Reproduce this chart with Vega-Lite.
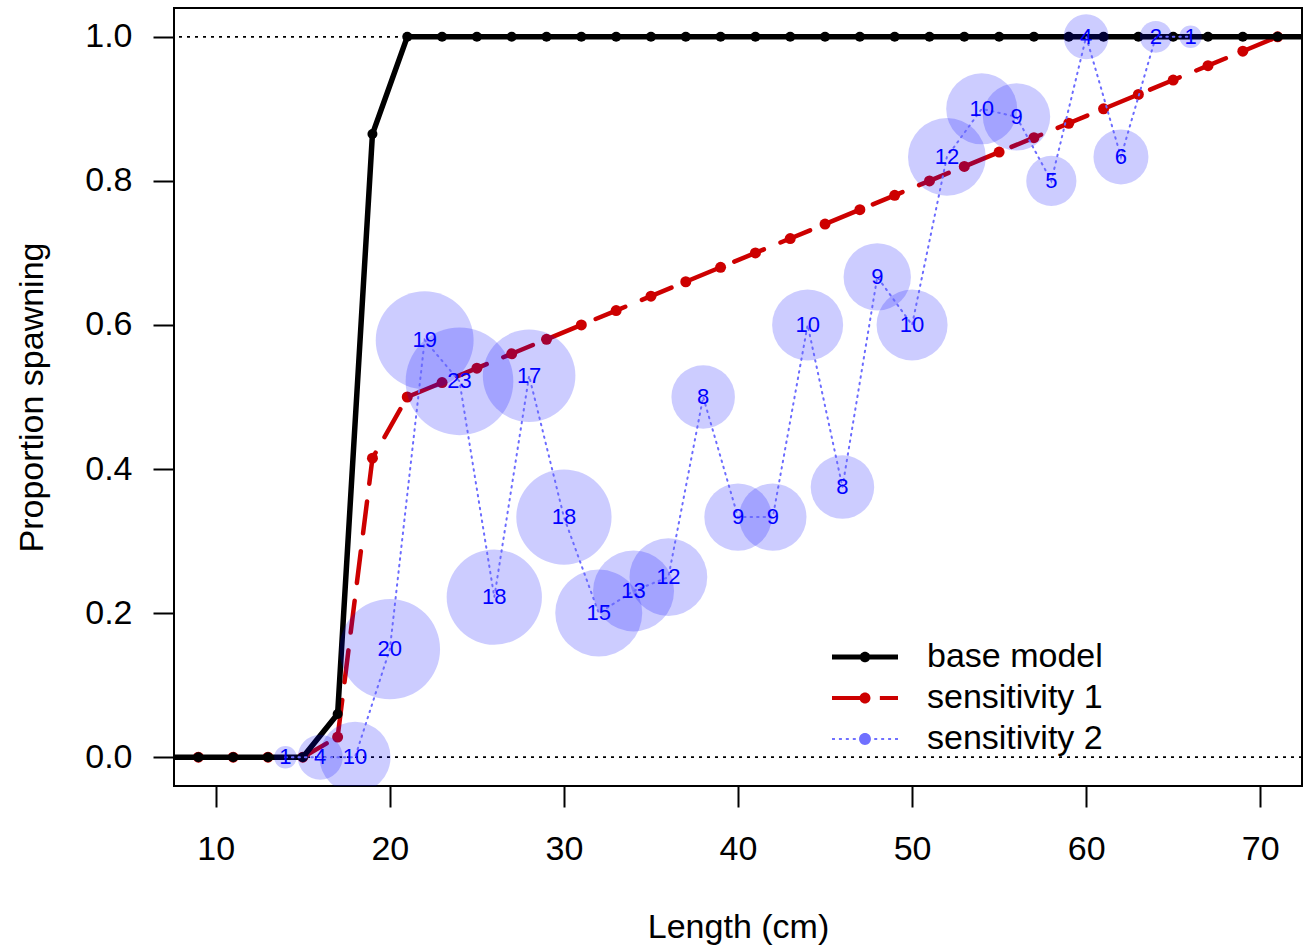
{
  "$schema": "https://vega.github.io/schema/vega-lite/v6.json",
  "width": 1128,
  "height": 778,
  "autosize": {"type": "none"},
  "padding": {"left": 174, "top": 8, "right": 12, "bottom": 164},
  "background": "white",
  "config": {
    "font": "Liberation Sans",
    "view": {"stroke": "black", "strokeWidth": 2},
    "axis": {
      "domain": false, "grid": false, "ticks": true, "tickSize": 21, "tickWidth": 2, "tickColor": "black",
      "labelFontSize": 34, "labelColor": "black", "titleFontSize": 34, "titleFontWeight": "normal",
      "titleColor": "black", "labelFlush": false, "labelOverlap": false, "labelBound": false
    }
  },
  "data": {
    "values": [
      {"s": "base model", "len": 7, "p": 0},
      {"s": "base model", "len": 9, "p": 0},
      {"s": "base model", "len": 11, "p": 0},
      {"s": "base model", "len": 13, "p": 0},
      {"s": "base model", "len": 15, "p": 0},
      {"s": "base model", "len": 17, "p": 0.06},
      {"s": "base model", "len": 19, "p": 0.865},
      {"s": "base model", "len": 21, "p": 1},
      {"s": "base model", "len": 23, "p": 1},
      {"s": "base model", "len": 25, "p": 1},
      {"s": "base model", "len": 27, "p": 1},
      {"s": "base model", "len": 29, "p": 1},
      {"s": "base model", "len": 31, "p": 1},
      {"s": "base model", "len": 33, "p": 1},
      {"s": "base model", "len": 35, "p": 1},
      {"s": "base model", "len": 37, "p": 1},
      {"s": "base model", "len": 39, "p": 1},
      {"s": "base model", "len": 41, "p": 1},
      {"s": "base model", "len": 43, "p": 1},
      {"s": "base model", "len": 45, "p": 1},
      {"s": "base model", "len": 47, "p": 1},
      {"s": "base model", "len": 49, "p": 1},
      {"s": "base model", "len": 51, "p": 1},
      {"s": "base model", "len": 53, "p": 1},
      {"s": "base model", "len": 55, "p": 1},
      {"s": "base model", "len": 57, "p": 1},
      {"s": "base model", "len": 59, "p": 1},
      {"s": "base model", "len": 61, "p": 1},
      {"s": "base model", "len": 63, "p": 1},
      {"s": "base model", "len": 65, "p": 1},
      {"s": "base model", "len": 67, "p": 1},
      {"s": "base model", "len": 69, "p": 1},
      {"s": "base model", "len": 71, "p": 1},
      {"s": "base model", "len": 73, "p": 1},
      {"s": "sensitivity 1", "len": 9, "p": 0},
      {"s": "sensitivity 1", "len": 11, "p": 0},
      {"s": "sensitivity 1", "len": 13, "p": 0},
      {"s": "sensitivity 1", "len": 15, "p": 0},
      {"s": "sensitivity 1", "len": 17, "p": 0.028},
      {"s": "sensitivity 1", "len": 19, "p": 0.415},
      {"s": "sensitivity 1", "len": 21, "p": 0.5},
      {"s": "sensitivity 1", "len": 23, "p": 0.52},
      {"s": "sensitivity 1", "len": 25, "p": 0.54},
      {"s": "sensitivity 1", "len": 27, "p": 0.56},
      {"s": "sensitivity 1", "len": 29, "p": 0.58},
      {"s": "sensitivity 1", "len": 31, "p": 0.6},
      {"s": "sensitivity 1", "len": 33, "p": 0.62},
      {"s": "sensitivity 1", "len": 35, "p": 0.64},
      {"s": "sensitivity 1", "len": 37, "p": 0.66},
      {"s": "sensitivity 1", "len": 39, "p": 0.68},
      {"s": "sensitivity 1", "len": 41, "p": 0.7},
      {"s": "sensitivity 1", "len": 43, "p": 0.72},
      {"s": "sensitivity 1", "len": 45, "p": 0.74},
      {"s": "sensitivity 1", "len": 47, "p": 0.76},
      {"s": "sensitivity 1", "len": 49, "p": 0.78},
      {"s": "sensitivity 1", "len": 51, "p": 0.8},
      {"s": "sensitivity 1", "len": 53, "p": 0.82},
      {"s": "sensitivity 1", "len": 55, "p": 0.84},
      {"s": "sensitivity 1", "len": 57, "p": 0.86},
      {"s": "sensitivity 1", "len": 59, "p": 0.88},
      {"s": "sensitivity 1", "len": 61, "p": 0.9},
      {"s": "sensitivity 1", "len": 63, "p": 0.92},
      {"s": "sensitivity 1", "len": 65, "p": 0.94},
      {"s": "sensitivity 1", "len": 67, "p": 0.96},
      {"s": "sensitivity 1", "len": 69, "p": 0.98},
      {"s": "sensitivity 1", "len": 71, "p": 1},
      {"s": "sensitivity 2", "len": 14, "p": 0, "n": 1},
      {"s": "sensitivity 2", "len": 16, "p": 0, "n": 4},
      {"s": "sensitivity 2", "len": 18, "p": 0, "n": 10},
      {"s": "sensitivity 2", "len": 20, "p": 0.15, "n": 20},
      {"s": "sensitivity 2", "len": 22, "p": 0.5789, "n": 19},
      {"s": "sensitivity 2", "len": 24, "p": 0.5217, "n": 23},
      {"s": "sensitivity 2", "len": 26, "p": 0.2222, "n": 18},
      {"s": "sensitivity 2", "len": 28, "p": 0.5294, "n": 17},
      {"s": "sensitivity 2", "len": 30, "p": 0.3333, "n": 18},
      {"s": "sensitivity 2", "len": 32, "p": 0.2, "n": 15},
      {"s": "sensitivity 2", "len": 34, "p": 0.2308, "n": 13},
      {"s": "sensitivity 2", "len": 36, "p": 0.25, "n": 12},
      {"s": "sensitivity 2", "len": 38, "p": 0.5, "n": 8},
      {"s": "sensitivity 2", "len": 40, "p": 0.3333, "n": 9},
      {"s": "sensitivity 2", "len": 42, "p": 0.3333, "n": 9},
      {"s": "sensitivity 2", "len": 44, "p": 0.6, "n": 10},
      {"s": "sensitivity 2", "len": 46, "p": 0.375, "n": 8},
      {"s": "sensitivity 2", "len": 48, "p": 0.6667, "n": 9},
      {"s": "sensitivity 2", "len": 50, "p": 0.6, "n": 10},
      {"s": "sensitivity 2", "len": 52, "p": 0.8333, "n": 12},
      {"s": "sensitivity 2", "len": 54, "p": 0.9, "n": 10},
      {"s": "sensitivity 2", "len": 56, "p": 0.8889, "n": 9},
      {"s": "sensitivity 2", "len": 58, "p": 0.8, "n": 5},
      {"s": "sensitivity 2", "len": 60, "p": 1, "n": 4},
      {"s": "sensitivity 2", "len": 62, "p": 0.8333, "n": 6},
      {"s": "sensitivity 2", "len": 64, "p": 1, "n": 2},
      {"s": "sensitivity 2", "len": 66, "p": 1, "n": 1}
    ]
  },
  "layer": [
    {
      "data": {"values": [{"p": 0}, {"p": 1}]},
      "mark": {"type": "rule", "strokeDash": [3, 5], "strokeWidth": 1.8, "color": "black"},
      "encoding": {
        "y": {"field": "p", "type": "quantitative", "scale": {"domain": [-0.04, 1.04], "nice": false, "zero": false},
              "axis": {"values": [0, 0.2, 0.4, 0.6, 0.8, 1], "format": ".1f", "title": "Proportion spawning", "labelPadding": 21, "titlePadding": 35}}
      }
    },
    {
      "transform": [{"filter": "datum.s === 'sensitivity 1'"}],
      "mark": {"type": "line", "strokeWidth": 4.5, "strokeDash": [32, 18], "clip": true, "strokeJoin": "round", "strokeCap": "round"},
      "encoding": {
        "x": {"field": "len", "type": "quantitative", "scale": {"domain": [7.6, 72.4], "nice": false, "zero": false},
              "axis": {"values": [10, 20, 30, 40, 50, 60, 70], "title": "Length (cm)", "labelPadding": 25, "titlePadding": 44}},
        "y": {"field": "p", "type": "quantitative", "scale": {"domain": [-0.04, 1.04], "nice": false, "zero": false},
              "axis": {"values": [0, 0.2, 0.4, 0.6, 0.8, 1], "format": ".1f", "title": "Proportion spawning", "labelPadding": 21, "titlePadding": 35}},
        "color": {
          "field": "s", "type": "nominal",
          "scale": {"domain": ["base model", "sensitivity 1", "sensitivity 2"], "range": ["black", "#CD0000", "#6B6BFF"]},
          "legend": {
            "title": null, "orient": "none", "legendX": 674, "legendY": 632, "padding": 0,
            "labelFontSize": 34, "labelFont": "Liberation Sans", "labelColor": "black", "labelLimit": 500,
            "labelOffset": 45, "rowPadding": 7, "symbolSize": 1089,
            "encode": {
              "symbols": {
                "update": {
                  "shape": {"signal": "datum.value === 'base model' ? 'M-2,-0.152L2,-0.152L2,0.152L-2,0.152Z M0.32,0A0.32,0.32,0,1,1,-0.32,0A0.32,0.32,0,1,1,0.32,0Z' : datum.value === 'sensitivity 1' ? 'M-2,-0.12L0.06,-0.12L0.06,0.12L-2,0.12Z M0.9,-0.12L2,-0.12L2,0.12L0.9,0.12Z M0.333,0A0.333,0.333,0,1,1,-0.333,0A0.333,0.333,0,1,1,0.333,0Z' : 'M-2,-0.06L-1.82,-0.06L-1.82,0.06L-2,0.06Z M-1.58,-0.06L-1.4,-0.06L-1.4,0.06L-1.58,0.06Z M-1.16,-0.06L-0.98,-0.06L-0.98,0.06L-1.16,0.06Z M-0.74,-0.06L-0.56,-0.06L-0.56,0.06L-0.74,0.06Z M0.56,-0.06L0.74,-0.06L0.74,0.06L0.56,0.06Z M0.98,-0.06L1.16,-0.06L1.16,0.06L0.98,0.06Z M1.4,-0.06L1.58,-0.06L1.58,0.06L1.4,0.06Z M1.82,-0.06L2,-0.06L2,0.06L1.82,0.06Z M0.36,0A0.36,0.36,0,1,1,-0.36,0A0.36,0.36,0,1,1,0.36,0Z'"},
                  "fill": {"signal": "datum.value === 'base model' ? 'black' : datum.value === 'sensitivity 1' ? '#CD0000' : '#7070FF'"},
                  "stroke": {"value": "transparent"},
                  "strokeWidth": {"value": 0},
                  "size": {"value": 1089},
                  "opacity": {"value": 1},
                  "fillOpacity": {"value": 1}
                }
              }
            }
          }
        }
      }
    },
    {
      "transform": [{"filter": "datum.s === 'sensitivity 1'"}],
      "mark": {"type": "circle", "size": 121, "opacity": 1, "color": "#CD0000", "clip": true},
      "encoding": {
        "x": {"field": "len", "type": "quantitative"},
        "y": {"field": "p", "type": "quantitative"}
      }
    },
    {
      "transform": [{"filter": "datum.s === 'base model'"}],
      "mark": {"type": "line", "strokeWidth": 5.5, "clip": true, "strokeJoin": "round", "strokeCap": "round"},
      "encoding": {
        "x": {"field": "len", "type": "quantitative"},
        "y": {"field": "p", "type": "quantitative"},
        "color": {"field": "s", "type": "nominal", "scale": {"domain": ["base model", "sensitivity 1", "sensitivity 2"], "range": ["black", "#CD0000", "#6B6BFF"]}, "legend": null}
      }
    },
    {
      "transform": [{"filter": "datum.s === 'base model'"}],
      "mark": {"type": "circle", "size": 100, "opacity": 1, "color": "black", "clip": true},
      "encoding": {
        "x": {"field": "len", "type": "quantitative"},
        "y": {"field": "p", "type": "quantitative"}
      }
    },
    {
      "transform": [{"filter": "datum.s === 'sensitivity 2'"}],
      "mark": {"type": "circle", "color": "#0000FF", "opacity": 0.2, "clip": true},
      "encoding": {
        "x": {"field": "len", "type": "quantitative"},
        "y": {"field": "p", "type": "quantitative"},
        "size": {"field": "n", "type": "quantitative", "scale": {"domain": [0, 23], "range": [0, 11600]}, "legend": null}
      }
    },
    {
      "transform": [{"filter": "datum.s === 'sensitivity 2'"}],
      "mark": {"type": "line", "strokeWidth": 2, "strokeDash": [1.5, 5], "strokeCap": "round", "clip": true},
      "encoding": {
        "x": {"field": "len", "type": "quantitative"},
        "y": {"field": "p", "type": "quantitative"},
        "color": {"field": "s", "type": "nominal", "scale": {"domain": ["base model", "sensitivity 1", "sensitivity 2"], "range": ["black", "#CD0000", "#6B6BFF"]}, "legend": null}
      }
    },
    {
      "transform": [{"filter": "datum.s === 'sensitivity 2'"}],
      "mark": {"type": "text", "fontSize": 22, "color": "#0000FF", "align": "center", "baseline": "middle", "font": "Liberation Sans"},
      "encoding": {
        "x": {"field": "len", "type": "quantitative"},
        "y": {"field": "p", "type": "quantitative"},
        "text": {"field": "n", "type": "quantitative"}
      }
    }
  ]
}
